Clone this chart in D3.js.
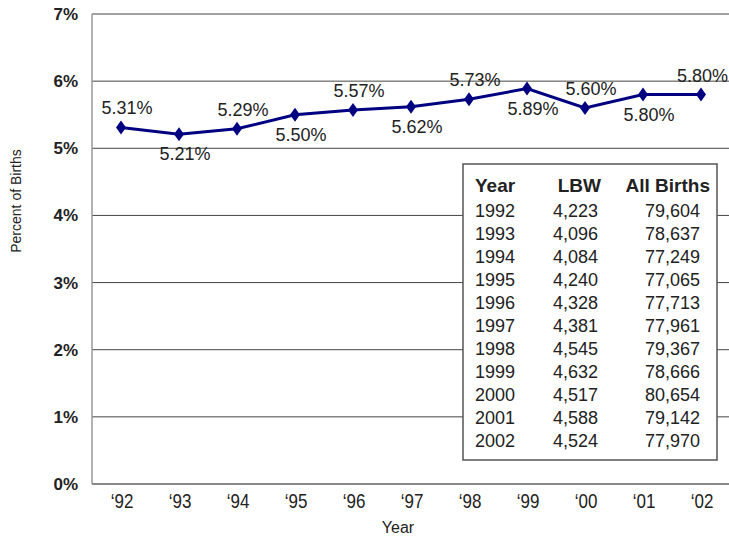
<html>
<head>
  <script src="https://d3js.org/d3.v7.min.js"></script>
  <style>
    body { margin: 0; background: #fff; }
    text { font-family: "Liberation Sans", Arial, sans-serif; fill: #222; }
  </style>
</head>
<body>
<svg id="chart" width="729" height="540"></svg>
<script>
// data
const years = ["\u201892","\u201893","\u201894","\u201895","\u201896","\u201897","\u201898","\u201899","\u201800","\u201801","\u201802"];
const pct = [5.31, 5.21, 5.29, 5.50, 5.57, 5.62, 5.73, 5.89, 5.60, 5.80, 5.80];
const labelSide = ["up","down","up","down","up","down","up","down","up","down","up"];
const yTicks = [0, 1, 2, 3, 4, 5, 6, 7];
const tableYears = ["1992","1993","1994","1995","1996","1997","1998","1999","2000","2001","2002"];
const tableLBW = ["4,223","4,096","4,084","4,240","4,328","4,381","4,545","4,632","4,517","4,588","4,524"];
const tableBirths = ["79,604","78,637","77,249","77,065","77,713","77,961","79,367","78,666","80,654","79,142","77,970"];

const svg = d3.select("#chart");
const margin = {top: 14, right: 0, bottom: 56, left: 92};
const width = 730 - margin.left;

const x = d3.scaleBand().domain(years).range([margin.left, margin.left + width]);
const y = d3.scaleLinear().domain([0, 7]).range([484, 14]);

// gridlines
svg.append("g")
  .selectAll("line").data(yTicks.filter(d => d > 0)).join("line")
  .attr("x1", margin.left).attr("x2", 730)
  .attr("y1", d => y(d)).attr("y2", d => y(d))
  .attr("stroke", "#444").attr("stroke-width", 1);

// axis lines
svg.append("line").attr("x1", margin.left).attr("x2", margin.left)
  .attr("y1", y(7)).attr("y2", y(0)).attr("stroke", "#999").attr("stroke-width", 1.5);
svg.append("line").attr("x1", margin.left).attr("x2", 730)
  .attr("y1", y(0)).attr("y2", y(0)).attr("stroke", "#888").attr("stroke-width", 2);

// y tick labels
svg.append("g").selectAll("text").data(yTicks).join("text")
  .attr("x", 78).attr("y", d => y(d)).attr("dy", "0.35em")
  .attr("text-anchor", "end").attr("font-weight", "bold").attr("font-size", 17)
  .text(d => d + "%");

// x tick labels (slightly condensed)
svg.append("g").selectAll("text").data(years).join("text")
  .attr("transform", d => `translate(${x(d) + x.bandwidth() / 2 + 1},508) scale(0.85,1)`)
  .attr("text-anchor", "middle").attr("font-size", 20)
  .text(d => d);

// axis titles
svg.append("text").attr("x", 398).attr("y", 533).attr("text-anchor", "middle")
  .attr("font-size", 16).text("Year");
svg.append("text").attr("transform", "translate(21,201) rotate(-90)")
  .attr("text-anchor", "middle").attr("font-size", 14).text("Percent  of Births");

// table box
const tb = {x: 463, y: 164, w: 254, h: 296};
svg.append("rect").attr("x", tb.x).attr("y", tb.y).attr("width", tb.w).attr("height", tb.h)
  .attr("fill", "#fff").attr("stroke", "#555").attr("stroke-width", 1.5);
const head = svg.append("g").attr("font-weight", "bold").attr("font-size", 19);
head.append("text").attr("x", 475).attr("y", 192).text("Year");
head.append("text").attr("x", 601).attr("y", 192).attr("text-anchor", "end").text("LBW");
head.append("text").attr("x", 710).attr("y", 192).attr("text-anchor", "end").text("All Births");
const rowY = d3.scaleLinear().domain([0, tableYears.length - 1]).range([217, 447]);
const rows = svg.append("g").attr("font-size", 18);
rows.selectAll(".yr").data(tableYears).join("text").attr("class", "yr")
  .attr("x", 475).attr("y", (d, i) => rowY(i)).text(d => d);
rows.selectAll(".lbw").data(tableLBW).join("text").attr("class", "lbw")
  .attr("x", 598).attr("y", (d, i) => rowY(i)).attr("text-anchor", "end").text(d => d);
rows.selectAll(".ab").data(tableBirths).join("text").attr("class", "ab")
  .attr("x", 700).attr("y", (d, i) => rowY(i)).attr("text-anchor", "end").text(d => d);

// line + markers
const cx = (d, i) => x(years[i]) + x.bandwidth() / 2;
svg.append("path").datum(pct)
  .attr("d", d3.line().x(cx).y(d => y(d)))
  .attr("fill", "none").attr("stroke", "#000080").attr("stroke-width", 3);
svg.append("g").selectAll("path").data(pct).join("path")
  .attr("transform", (d, i) => `translate(${cx(d, i)},${y(d)})`)
  .attr("d", "M0,-7L5,0L0,7L-5,0Z").attr("fill", "#000080");

// data labels
const last = pct.length - 1;
svg.append("g").selectAll("text").data(pct).join("text")
  .attr("x", (d, i) => i === last ? 728 : cx(d, i) + 6)
  .attr("y", (d, i) => labelSide[i] === "up" ? y(d) - 13 : y(d) + 26)
  .attr("text-anchor", (d, i) => i === last ? "end" : "middle")
  .attr("font-size", 18)
  .text(d => d.toFixed(2) + "%");
</script>
</body>
</html>
